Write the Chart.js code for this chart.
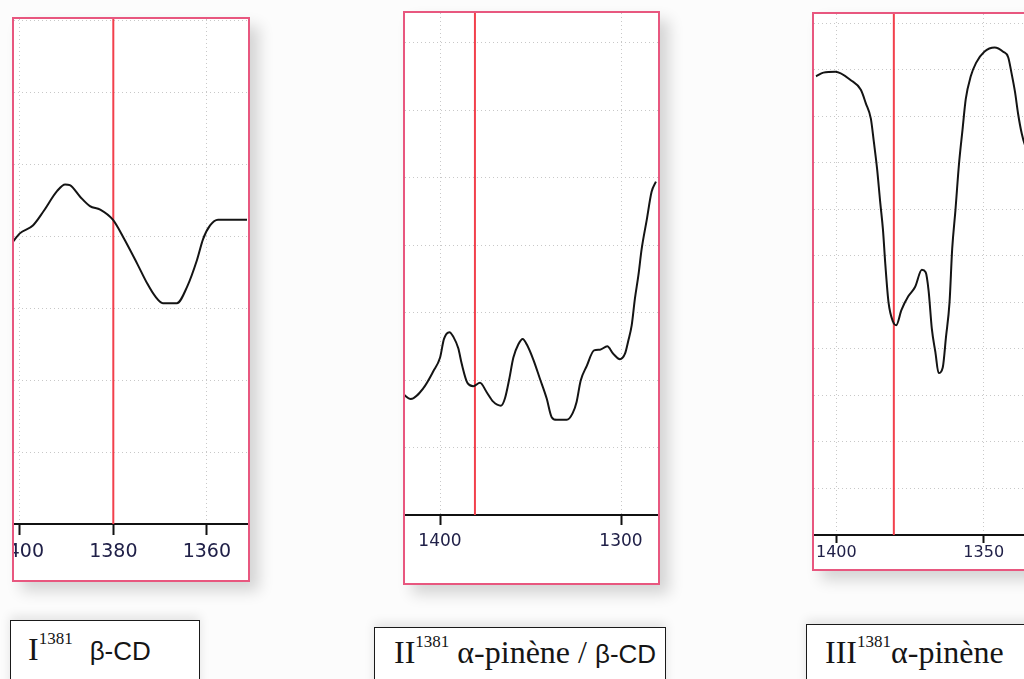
<!DOCTYPE html>
<html>
<head>
<meta charset="utf-8">
<script src="https://cdn.jsdelivr.net/npm/chart.js@4.4.0/dist/chart.umd.min.js"></script>
<style>
  body { margin: 0; width: 1024px; height: 679px; overflow: hidden; background: #fcfcfc; position: relative; }
  .panel { position: absolute; border: 2px solid #e8577f; overflow: hidden; background: #fff;
           box-shadow: 9px 9px 14px rgba(0,0,0,0.16); }
  .panel canvas { display: block; }
  .lab { position: absolute; border: 1.5px solid #1a1a1a; border-bottom: none; height: 80px; background: #fff;
         box-shadow: 0 -4px 10px rgba(0,0,0,0.10); }
  .lab .t { position: absolute; font-family: "Liberation Serif", "Times New Roman", serif; font-size: 32px;
            line-height: 32px; color: #151515; white-space: nowrap; }
  .lab .sup { font-size: 17px; position: relative; top: -16px; }
  .lab .s { font-family: "Liberation Sans", Arial, sans-serif; font-size: 26px; }
</style>
</head>
<body>

<div class="panel" style="left:12px;top:17px"><canvas id="c1" width="234" height="561"></canvas></div>
<div class="panel" style="left:403px;top:11px"><canvas id="c2" width="253" height="570"></canvas></div>
<div class="panel" style="left:812px;top:12px"><canvas id="c3" width="250" height="555"></canvas></div>

<div class="lab" style="left:10px;top:620px;width:188px">
  <span class="t" style="left:17px;top:12px">I<span class="sup">1381</span> <span class="s" style="margin-left:9px">β-CD</span></span>
</div>
<div class="lab" style="left:374px;top:627px;width:290px">
  <span class="t" style="left:19px;top:8px">II<span class="sup">1381</span> α-pinène / <span class="s">β-CD</span></span>
</div>
<div class="lab" style="left:806px;top:624px;width:260px">
  <span class="t" style="left:18px;top:11px">III<span class="sup">1381</span>α-pinène</span>
</div>

<script>
// I (beta-CD) : wavenumber (cm-1) and signal
var WN_1 = [1401.5, 1400.0, 1397.2, 1395.0, 1392.0, 1390.3, 1389.3, 1387.1, 1385.0, 1382.8, 1380.1, 1377.9,
            1374.9, 1372.8, 1371.1, 1369.4, 1366.4, 1364.2, 1362.1, 1360.8, 1359.3, 1357.6, 1351.4];
var SIG_1 = [3.92, 4.04, 4.15, 4.34, 4.63, 4.72, 4.71, 4.55, 4.42, 4.37, 4.23, 3.99,
             3.62, 3.35, 3.17, 3.07, 3.07, 3.30, 3.67, 3.96, 4.15, 4.23, 4.23];
var TICKS_1 = [1400, 1380, 1360];

// II (alpha-pinene / beta-CD)
var WN_2 = [1420.3, 1416.2, 1409.2, 1403.7, 1400.0, 1397.8, 1394.8, 1392.6, 1389.9, 1388.0, 1384.9, 1381.6,
            1377.9, 1374.2, 1370.6, 1366.3, 1364.1, 1361.7, 1359.5, 1356.7, 1354.3, 1352.1, 1348.4, 1344.8,
            1341.1, 1338.3, 1335.5, 1330.0, 1326.7, 1324.5, 1322.3, 1318.9, 1314.9, 1311.6, 1307.6, 1304.3,
            1300.6, 1297.8, 1296.0, 1294.1, 1292.3, 1290.4, 1288.6, 1285.8, 1283.1, 1280.7];
var SIG_2 = [1.79, 1.72, 1.88, 2.13, 2.33, 2.61, 2.71, 2.64, 2.47, 2.24, 1.96, 1.91,
             1.96, 1.82, 1.68, 1.62, 1.73, 2.02, 2.33, 2.53, 2.61, 2.53, 2.30, 2.02,
             1.73, 1.45, 1.41, 1.41, 1.51, 1.68, 1.99, 2.21, 2.44, 2.45, 2.50, 2.39,
             2.31, 2.39, 2.58, 2.81, 3.21, 3.55, 3.94, 4.37, 4.79, 4.94];
var TICKS_2 = [1400, 1300];

// III (alpha-pinene)
var WN_3 = [1406.9, 1404.4, 1400.3, 1395.2, 1391.7, 1390.0, 1388.3, 1387.3, 1386.2, 1385.1, 1384.2, 1383.4,
            1382.3, 1380.8, 1379.7, 1377.9, 1375.6, 1373.3, 1371.0, 1369.7, 1368.7, 1367.6, 1366.4, 1365.3,
            1363.9, 1362.8, 1361.6, 1360.7, 1359.6, 1358.4, 1357.2, 1356.1, 1354.4, 1352.6, 1349.8, 1346.3,
            1343.4, 1341.7, 1340.6, 1339.4, 1338.3, 1337.1, 1336.0, 1335.2, 1333.0];
var SIG_3 = [9.86, 9.94, 9.96, 9.78, 9.57, 9.28, 8.95, 8.46, 7.88, 7.14, 6.57, 5.83,
             5.00, 4.59, 4.51, 4.84, 5.13, 5.33, 5.70, 5.65, 5.25, 4.43, 3.93, 3.48,
             3.60, 4.26, 5.00, 6.15, 6.98, 7.97, 8.71, 9.37, 9.86, 10.15, 10.39, 10.48,
             10.39, 10.27, 9.94, 9.53, 9.04, 8.63, 8.38, 8.29, 8.0];
var TICKS_3 = [1400, 1350];

// red marker line (band at 1381)
var MARK = [1380, 1380.7, 1380.5];

function makePanel(id, wn, sig, ticks, mark, opt) {
  var pts = [];
  for (var i = 0; i < wn.length; i++) {
    pts.push({x: wn[i], y: sig[i]});
  }

  return new Chart(document.getElementById(id).getContext('2d'), {
    type: 'line',
    data: {
      datasets: [{
        data: pts,
        borderColor: '#141414',
        borderWidth: 2,
        pointRadius: 0,
        cubicInterpolationMode: 'monotone'
      }, {
        data: [{x: mark, y: 0}, {x: mark, y: opt.ymax}],
        borderColor: '#f2404c',
        borderWidth: 2,
        pointRadius: 0
      }]
    },
    options: {
      responsive: false,
      animation: false,
      layout: { padding: 0 },
      plugins: { legend: { display: false }, tooltip: { enabled: false } },
      scales: {
        x: {
          type: 'linear',
          reverse: true,
          min: opt.xmin,
          max: opt.xmax,
          afterBuildTicks: function(s) { s.ticks = ticks.map(function(v) { return {value: v}; }); },
          // no extra room for the edge labels, they get cut by the frame
          afterFit: function(s) { s.paddingLeft = 0; s.paddingRight = 0; s.height = opt.axisH; },
          grid: { color: '#c8c8c8', lineWidth: 1, tickLength: opt.tickLen, tickColor: '#111', tickWidth: 2 },
          border: { color: '#111', width: 2, dash: [1, 3] },
          ticks: {
            maxRotation: 0, autoSkip: false, padding: opt.pad, color: '#202048',
            font: { family: 'DejaVu Sans', size: opt.font },
            callback: function(v) { return String(v); }
          }
        },
        y: {
          min: 0,
          max: opt.ymax,
          afterFit: function(s) { s.width = 0; },
          grid: { color: '#c8c8c8', lineWidth: 1, drawTicks: false },
          border: { display: false, dash: [1, 3] },
          ticks: { display: false, stepSize: 1, includeBounds: false }
        }
      }
    }
  });
}

makePanel('c1', WN_1, SIG_1, TICKS_1, MARK[0], {xmin: 1351.19, xmax: 1401.24, ymax: 7.02, axisH: 56, tickLen: 11, pad: 6, font: 19});
makePanel('c2', WN_2, SIG_2, TICKS_2, MARK[1], {xmin: 1279.56, xmax: 1419.34, ymax: 7.44, axisH: 68, tickLen: 10, pad: 6, font: 17});
makePanel('c3', WN_3, SIG_3, TICKS_3, MARK[2], {xmin: 1322.76, xmax: 1407.59, ymax: 11.2, axisH: 34, tickLen: 8, pad: 0, font: 16});
</script>
</body>
</html>
